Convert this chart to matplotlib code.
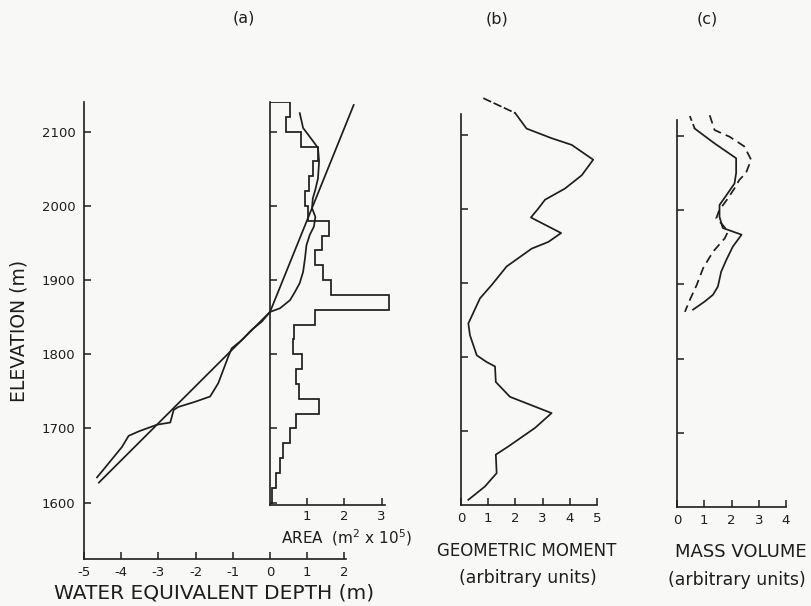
import matplotlib
matplotlib.use('Agg')
import matplotlib.pyplot as plt

W, H = 811, 606
INK = '#1e1e1e'
BG = '#f8f8f6'

# ---------------- data ----------------
# (a) area-altitude histogram (20 m bands), area in 1e5 m^2
hist_edges = list(range(1600, 2141, 20))
hist_area = [0.05, 0.16, 0.27, 0.34, 0.55, 0.71, 1.31, 0.78, 0.71, 0.86,
             0.62, 0.65, 1.20, 3.19, 1.64, 1.42, 1.20, 1.40, 1.58, 1.02,
             0.93, 1.05, 1.15, 1.28, 0.82, 0.44, 0.55]

# (a) fitted balance gradient (water equivalent depth, m)
fit_depth = [-4.6, 0.0, 2.25]
fit_elev = [1627, 1857, 2136]

# (a) measured balance curve
bal_depth = [-4.65, -4.42, -4.11, -3.98, -3.80, -3.53, -3.04, -2.68, -2.59, -2.46,
             -2.01, -1.61, -1.39, -1.12, -1.03, -0.76, -0.49, -0.22, 0.0,
             0.27, 0.54, 0.67, 0.80, 0.89, 0.94, 0.98, 1.07, 1.18, 1.22,
             1.13, 1.15, 1.22, 1.29, 1.32, 1.29, 1.16, 0.89, 0.80]
bal_elev = [1634, 1648, 1667, 1675, 1690, 1696, 1705, 1708, 1725, 1729,
            1736, 1743, 1761, 1797, 1808, 1819, 1833, 1844, 1857,
            1862, 1873, 1884, 1896, 1911, 1929, 1947, 1961, 1972, 1985,
            1997, 2010, 2022, 2037, 2060, 2078, 2087, 2105, 2125]

# (b) geometric moment (arbitrary units)
gm_dash_val = [0.82, 1.99]
gm_dash_elev = [2149, 2129]
gm_val = [1.99, 2.41, 3.33, 4.07, 4.86, 4.44, 3.82, 3.09, 2.84, 2.57,
          3.68, 3.21, 2.60, 1.68, 1.13, 0.70, 0.27, 0.33, 0.58, 0.94,
          1.25, 1.28, 1.80, 3.33, 2.72, 1.74, 1.28, 1.31, 0.88, 0.27]
gm_elev = [2129, 2108, 2095, 2086, 2066, 2045, 2027, 2012, 2000, 1988,
           1967, 1955, 1946, 1922, 1897, 1879, 1845, 1829, 1802, 1793,
           1787, 1766, 1746, 1724, 1704, 1679, 1668, 1643, 1625, 1607]

# (c) mass volume (arbitrary units), solid and dashed
mv_val = [0.47, 0.65, 1.38, 2.17, 2.17, 2.11, 1.81, 1.56, 1.56, 1.68,
          2.37, 2.05, 1.81, 1.62, 1.50, 1.32, 1.02, 0.59]
mv_elev = [2127, 2110, 2090, 2070, 2050, 2036, 2020, 2007, 1991, 1976,
           1967, 1951, 1933, 1917, 1897, 1886, 1877, 1866]
mv2_val = [1.20, 1.38, 1.93, 2.47, 2.72, 2.53, 2.29, 2.12, 1.85, 1.55,
           1.44, 1.68, 1.87, 1.75, 1.32, 0.96, 0.72, 0.47, 0.29]
mv2_elev = [2128, 2108, 2099, 2086, 2068, 2050, 2041, 2030, 2015, 2000,
            1989, 1980, 1971, 1962, 1944, 1922, 1899, 1879, 1863]

elev_ticks = [1600, 1700, 1800, 1900, 2000, 2100]
depth_ticks = [-5, -4, -3, -2, -1, 0, 1, 2]
area_ticks = [1, 2, 3]
gm_ticks = [0, 1, 2, 3, 4, 5]
mv_ticks = [0, 1, 2, 3, 4]

# ---------------- figure ----------------
plt.rcParams['font.family'] = ['DejaVu Sans']
fig = plt.figure(figsize=(W / 100, H / 100), dpi=100, facecolor=BG)


def px_axes(x0, x1, ytop, ybot):
    return fig.add_axes([x0 / W, 1 - ybot / H, (x1 - x0) / W, (ybot - ytop) / H])


def style(ax):
    ax.set_facecolor('none')
    for s in ['top', 'right']:
        ax.spines[s].set_visible(False)
    for s in ['left', 'bottom']:
        ax.spines[s].set_color(INK)
        ax.spines[s].set_linewidth(1.2)
    ax.tick_params(direction='in', length=5, width=1.1, color=INK,
                   labelcolor=INK, labelsize=9.5)


LW = 1.25

# ---- panel (a) ----
axa = px_axes(84, 84 + 8.3 * 37.2, 102, 559)
style(axa)
axa.set_xlim(-5, 3.3)
axa.set_ylim(1524, 2140)
axa.spines['bottom'].set_bounds(-5, 2.05)
axa.set_xticks(depth_ticks)
axa.set_xticklabels([str(t) for t in depth_ticks])
axa.set_yticks(elev_ticks)
axa.tick_params(axis='y', pad=6)
axa.tick_params(axis='x', pad=5)
axa.plot(fit_depth, fit_elev, color=INK, lw=LW, clip_on=False)
axa.plot(bal_depth, bal_elev, color=INK, lw=LW, clip_on=False)
axa.set_ylabel('ELEVATION (m)', fontsize=13.5, color=INK, labelpad=10)

# area inset sharing the same scale
axh = axa.inset_axes([0, 1597, 3.3, 2140 - 1597], transform=axa.transData)
style(axh)
axh.set_xlim(0, 3.3)
axh.set_ylim(1597, 2140)
axh.spines['bottom'].set_bounds(0, 3.1)
axh.set_xticks(area_ticks)
axh.set_yticks(elev_ticks)
axh.set_yticklabels([])
axh.tick_params(axis='x', pad=4)
axh.stairs(hist_area, hist_edges, orientation='horizontal', baseline=0,
           color=INK, lw=LW)


# ---- panel (b) ----
axb = px_axes(461, 461 + 5.2 * 27.2, 505 - 555 * 0.741, 505)
style(axb)
axb.set_xlim(0, 5.2)
axb.set_ylim(1600, 2155)
axb.spines['left'].set_bounds(1600, 2128)
axb.spines['bottom'].set_bounds(0, 5)
axb.set_xticks(gm_ticks)
axb.set_yticks(elev_ticks[1:])
axb.set_yticklabels([])
axb.tick_params(axis='x', pad=5)
axb.plot(gm_val, gm_elev, color=INK, lw=LW)
axb.plot(gm_dash_val, gm_dash_elev, color=INK, lw=LW, ls=(0, (5, 1.5)),
         clip_on=False)

# ---- panel (c) ----
axc = px_axes(677, 677 + 4.9 * 27.25, 507 - 560 * 0.742, 507)
style(axc)
axc.set_xlim(0, 4.9)
axc.set_ylim(1600, 2160)
axc.spines['left'].set_bounds(1600, 2122)
axc.spines['bottom'].set_bounds(0, 4)
axc.set_xticks(mv_ticks)
axc.set_yticks(elev_ticks[1:])
axc.set_yticklabels([])
axc.tick_params(axis='x', pad=5)
axc.plot(mv_val[1:], mv_elev[1:], color=INK, lw=LW)
axc.plot(mv_val[:2], mv_elev[:2], color=INK, lw=LW, ls=(0, (3, 2)))
axc.plot(mv2_val, mv2_elev, color=INK, lw=LW, ls=(0, (5, 3)))

# ---- texts ----
def ftext(x, y, s, **kw):
    kw.setdefault('fontsize', 11)
    kw.setdefault('color', INK)
    kw.setdefault('ha', 'center')
    kw.setdefault('va', 'center')
    fig.text(x / W, 1 - y / H, s, **kw)


ftext(244, 18, '(a)', fontsize=11.5)
ftext(497, 19, '(b)', fontsize=11.5)
ftext(707, 19, '(c)', fontsize=11.5)
ftext(347, 538, 'AREA  (m$^2$ x 10$^5$)', fontsize=11)
ftext(214, 593, 'WATER EQUIVALENT DEPTH (m)', fontsize=14.5)
ftext(527, 551, 'GEOMETRIC MOMENT', fontsize=12)
ftext(528, 578, '(arbitrary units)', fontsize=12.5)
ftext(675, 552, 'MASS VOLUME', fontsize=13, ha='left')
ftext(737, 580, '(arbitrary units)', fontsize=12.5)

fig.savefig('out.png', dpi=100, facecolor=BG)
